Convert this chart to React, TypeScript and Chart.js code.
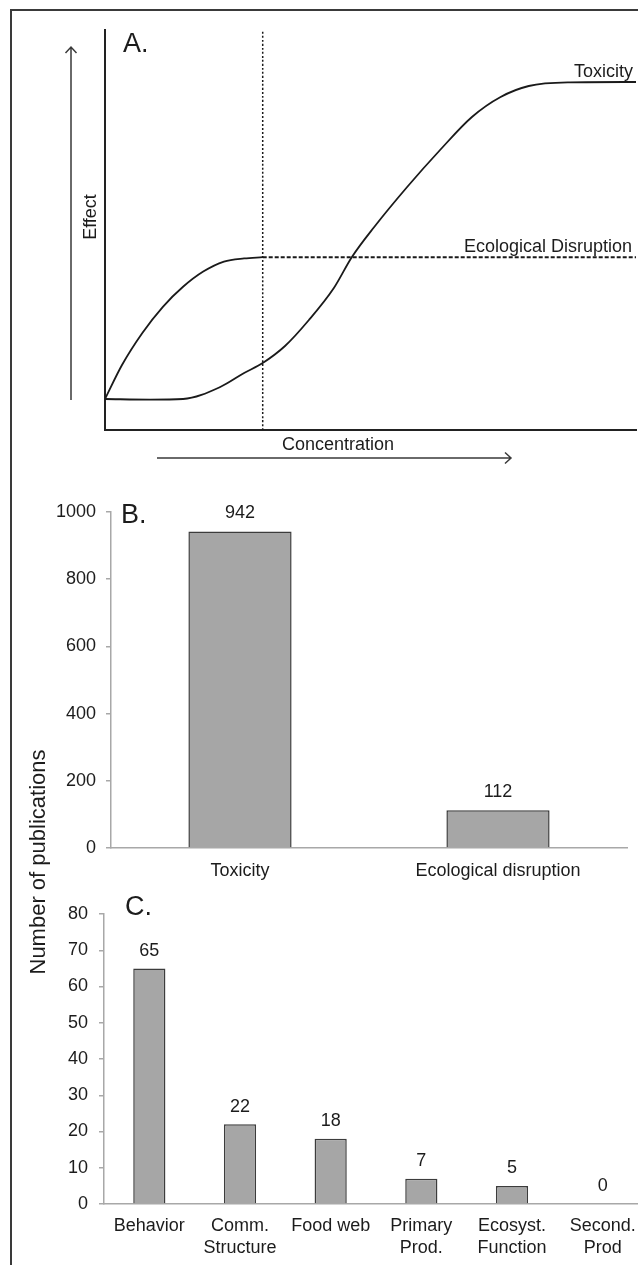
import React, { useEffect, useRef } from "react";
import { Chart, registerables } from "chart.js";

Chart.register(...registerables);

const FONT = '"Liberation Sans", Arial, Helvetica, sans-serif';
const TEXT = "#1c1c1c";
const LINE = "#1a1a1a";
const AXIS_GRAY = "#a8a8a8";
const BAR_FILL = "#a6a6a6";
const BAR_EDGE = "#3c3c3c";

// ---------- Panel A: conceptual curves (concentration 0..100, effect 0..100) ----------
const ecoConc = [0, 3.2, 7.0, 10.9, 14.7, 18.5, 22.4, 26.2, 29.7];
const ecoEffect = [7.75, 16.25, 24.2, 30.8, 35.8, 39.6, 42.1, 42.9, 43.2];
const ecoPlateauConc = [29.7, 100];
const ecoPlateauEffect = [43.2, 43.2];
const toxConc = [0, 8.5, 14.7, 21.7, 26.2, 29.7, 33.9, 38.4, 43.1, 46.5, 50.7, 56.9, 63.1, 69.1, 74.5, 79.8, 87.6, 100];
const toxEffect = [7.75, 7.6, 7.75, 10.75, 14.25, 16.75, 21.0, 27.5, 35.5, 43.25, 50.75, 60.75, 70, 78.25, 83.25, 86, 86.9, 87];
const thresholdConc = [29.7, 29.7];
const thresholdEffect = [0, 100];
const curveLabels = ["Toxicity", "Ecological Disruption"];
const axisLabelsA = ["Concentration", "Effect"];

// ---------- Panel B ----------
const catsB = ["Toxicity", "Ecological disruption"];
const valsB = [942, 112];
const yTicksB = [0, 200, 400, 600, 800, 1000];

// ---------- Panel C ----------
const catsC = [["Behavior"], ["Comm.", "Structure"], ["Food web"], ["Primary", "Prod."], ["Ecosyst.", "Function"], ["Second.", "Prod"]];
const valsC = [65, 22, 18, 7, 5, 0];
const yTicksC = [0, 10, 20, 30, 40, 50, 60, 70, 80];

const yTitle = "Number of publications";
const panelLetters = ["A.", "B.", "C."];

const pts = (xs: number[], ys: number[]) => xs.map((x, i) => ({ x, y: ys[i] }));

const annotA = {
  id: "annotA",
  afterDraw(chart: any) {
    const { ctx, chartArea: ca, scales } = chart;
    const y = scales.y;
    ctx.save();
    ctx.fillStyle = TEXT;
    ctx.textBaseline = "alphabetic";
    ctx.font = `27px ${FONT}`;
    ctx.textAlign = "left";
    ctx.fillText(panelLetters[0], ca.left + 18, 52);
    ctx.font = `18px ${FONT}`;
    ctx.textAlign = "right";
    ctx.fillText(curveLabels[0], ca.right - 3, y.getPixelForValue(toxEffect[toxEffect.length - 1]) - 5);
    ctx.fillText(curveLabels[1], ca.right - 4, y.getPixelForValue(ecoPlateauEffect[1]) - 5);
    ctx.textAlign = "center";
    ctx.fillText(axisLabelsA[0], 338, 450);
    ctx.save();
    ctx.translate(96, 217);
    ctx.rotate(-Math.PI / 2);
    ctx.fillText(axisLabelsA[1], 0, 0);
    ctx.restore();
    ctx.strokeStyle = "#3a3a3a";
    ctx.lineWidth = 1.5;
    ctx.beginPath();
    ctx.moveTo(71, 400);
    ctx.lineTo(71, 47);
    ctx.moveTo(65.5, 53);
    ctx.lineTo(71, 47);
    ctx.lineTo(76.5, 53);
    ctx.moveTo(157, 458);
    ctx.lineTo(511, 458);
    ctx.moveTo(505, 452.5);
    ctx.lineTo(511, 458);
    ctx.lineTo(505, 463.5);
    ctx.stroke();
    ctx.restore();
  },
};

const makeBarLabels = (letter: string, letterX: number, letterBaseline: number, offset: number) => ({
  id: "barLabels",
  afterDraw(chart: any) {
    const { ctx } = chart;
    const meta = chart.getDatasetMeta(0);
    const data = chart.data.datasets[0].data;
    ctx.save();
    ctx.fillStyle = TEXT;
    ctx.font = `18px ${FONT}`;
    ctx.textAlign = "center";
    ctx.textBaseline = "middle";
    meta.data.forEach((el: any, i: number) => {
      ctx.fillText(String(data[i]), el.x, el.y - offset);
    });
    ctx.font = `27px ${FONT}`;
    ctx.textAlign = "left";
    ctx.textBaseline = "alphabetic";
    ctx.fillText(letter, letterX, letterBaseline);
    ctx.restore();
  },
});

const yTitlePlugin = {
  id: "yTitle",
  afterDraw(chart: any) {
    const { ctx } = chart;
    ctx.save();
    ctx.fillStyle = TEXT;
    ctx.font = `22px ${FONT}`;
    ctx.textAlign = "center";
    ctx.textBaseline = "middle";
    ctx.translate(39, 862 - 480);
    ctx.rotate(-Math.PI / 2);
    ctx.fillText(yTitle, 0, 0);
    ctx.restore();
  },
};

const lineDs = (data: any[], width: number, dash: number[] = []) => ({
  data,
  borderColor: LINE,
  borderWidth: width,
  borderDash: dash,
  pointRadius: 0,
  fill: false,
  cubicInterpolationMode: "monotone" as const,
});

const plainTick = (v: any) => String(v);

export default function App() {
  const refA = useRef<HTMLCanvasElement>(null);
  const refB = useRef<HTMLCanvasElement>(null);
  const refC = useRef<HTMLCanvasElement>(null);

  useEffect(() => {
    const charts: Chart[] = [];
    const noPlugins = { legend: { display: false }, tooltip: { enabled: false } };

    charts.push(
      new Chart(refA.current!, {
        type: "line",
        data: {
          datasets: [
            lineDs(pts(toxConc, toxEffect), 1.8),
            lineDs(pts(ecoConc, ecoEffect), 1.8),
            lineDs(pts(ecoPlateauConc, ecoPlateauEffect), 2, [4, 2]),
            lineDs(pts(thresholdConc, thresholdEffect), 1.5, [2, 2]),
          ],
        },
        options: {
          responsive: false,
          animation: false,
          layout: { padding: { left: 105, top: 30, right: 2, bottom: 50 } },
          plugins: noPlugins,
          scales: {
            x: {
              type: "linear",
              min: 0,
              max: 100,
              grid: { display: false, drawTicks: false },
              ticks: { display: false },
              border: { display: true, color: "#222", width: 2 },
              afterFit: (s: any) => { s.height = 0; },
            },
            y: {
              type: "linear",
              min: 0,
              max: 100,
              grid: { display: false, drawTicks: false },
              ticks: { display: false },
              border: { display: true, color: "#222", width: 2 },
              afterFit: (s: any) => { s.width = 0; },
            },
          },
        } as any,
        plugins: [annotA],
      })
    );

    charts.push(
      new Chart(refB.current!, {
        type: "bar",
        data: {
          labels: catsB,
          datasets: [
            {
              data: valsB,
              backgroundColor: BAR_FILL,
              borderColor: BAR_EDGE,
              borderWidth: 1.5,
              barPercentage: 0.4,
              categoryPercentage: 1,
            },
          ],
        },
        options: {
          responsive: false,
          animation: false,
          layout: { padding: { left: 0, top: 32, right: 11, bottom: 0 } },
          plugins: noPlugins,
          scales: {
            x: {
              grid: { display: false, drawTicks: false },
              border: { display: true, color: AXIS_GRAY, width: 1.5 },
              ticks: { font: { family: FONT, size: 18 }, color: TEXT, padding: 12 },
              afterFit: (s: any) => { s.height = 152; },
            },
            y: {
              min: yTicksB[0],
              max: yTicksB[yTicksB.length - 1],
              afterBuildTicks: (s: any) => { s.ticks = yTicksB.map((v) => ({ value: v })); },
              ticks: { font: { family: FONT, size: 18 }, color: TEXT, padding: 10, callback: plainTick },
              grid: { display: true, drawOnChartArea: false, drawTicks: true, tickLength: 5, color: AXIS_GRAY, lineWidth: 1.5 },
              border: { display: true, color: AXIS_GRAY, width: 1.5 },
              afterFit: (s: any) => { s.width = 111; },
            },
          },
        } as any,
        plugins: [makeBarLabels(panelLetters[1], 121, 523 - 480, 18), yTitlePlugin],
      })
    );

    charts.push(
      new Chart(refC.current!, {
        type: "bar",
        data: {
          labels: catsC,
          datasets: [
            {
              data: valsC,
              backgroundColor: BAR_FILL,
              borderColor: BAR_EDGE,
              borderWidth: 1.5,
              barPercentage: 0.355,
              categoryPercentage: 1,
            },
          ],
        },
        options: {
          responsive: false,
          animation: false,
          layout: { padding: { left: 0, top: 34, right: 22, bottom: 0 } },
          plugins: noPlugins,
          scales: {
            x: {
              grid: { display: false, drawTicks: false },
              border: { display: true, color: AXIS_GRAY, width: 1.5 },
              ticks: { font: { family: FONT, size: 18, lineHeight: 1.17 }, color: TEXT, padding: 12 },
              afterFit: (s: any) => { s.height = 61; },
            },
            y: {
              min: yTicksC[0],
              max: yTicksC[yTicksC.length - 1],
              afterBuildTicks: (s: any) => { s.ticks = yTicksC.map((v) => ({ value: v })); },
              ticks: { font: { family: FONT, size: 18 }, color: TEXT, padding: 11, callback: plainTick },
              grid: { display: true, drawOnChartArea: false, drawTicks: true, tickLength: 5, color: AXIS_GRAY, lineWidth: 1.5 },
              border: { display: true, color: AXIS_GRAY, width: 1.5 },
              afterFit: (s: any) => { s.width = 104; },
            },
          },
        } as any,
        plugins: [makeBarLabels(panelLetters[2], 125, 915 - 880, 17.5)],
      })
    );

    return () => charts.forEach((c) => c.destroy());
  }, []);

  return (
    <div
      style={{
        position: "absolute",
        left: 0,
        top: 0,
        width: 638,
        height: 1265,
        overflow: "hidden",
        background: "#fff",
      }}
    >
      <div
        style={{
          position: "absolute",
          left: 10,
          top: 9,
          width: 700,
          height: 1300,
          borderTop: "2px solid #3a3a3a",
          borderLeft: "2px solid #3a3a3a",
        }}
      />
      <canvas ref={refA} width={638} height={480} style={{ position: "absolute", left: 0, top: 0 }} />
      <canvas ref={refB} width={638} height={520} style={{ position: "absolute", left: 0, top: 480 }} />
      <canvas ref={refC} width={670} height={385} style={{ position: "absolute", left: 0, top: 880 }} />
    </div>
  );
}
